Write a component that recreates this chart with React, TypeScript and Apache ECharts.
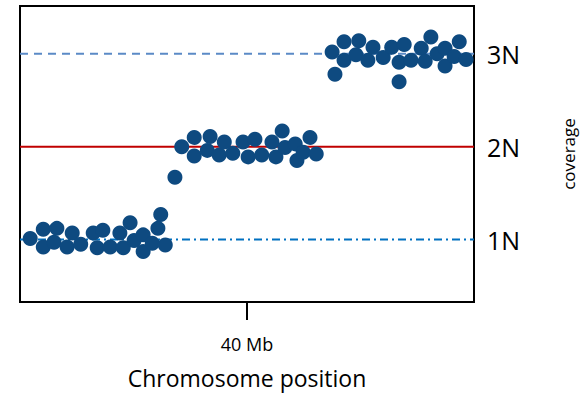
import React, { useEffect, useRef } from "react";
import * as echarts from "echarts";

// Chromosome position (Mb) and coverage (copy number) for each window
const oneNX = [1.8, 4.1, 4.1, 6.0, 6.5, 8.3, 9.2, 10.7, 12.9, 13.6, 14.6, 15.9, 17.6, 18.2, 19.4, 20.1, 21.7, 21.7, 23.3, 24.3, 24.8, 25.6];
const oneNY = [1.01, 1.11, 0.92, 0.97, 1.12, 0.92, 1.07, 0.95, 1.07, 0.91, 1.10, 0.92, 1.07, 0.91, 1.18, 0.99, 1.05, 0.87, 0.96, 1.12, 1.27, 0.94];
const twoNX = [27.3, 28.5, 30.7, 30.7, 33.5, 33.0, 35.1, 36.0, 37.5, 39.3, 40.2, 41.4, 42.6, 44.4, 45.1, 46.2, 46.7, 48.5, 48.8, 49.9, 51.1, 52.2];
const twoNY = [1.67, 2.0, 2.1, 1.9, 2.11, 1.96, 1.91, 2.05, 1.93, 2.05, 1.89, 2.08, 1.91, 2.05, 1.89, 2.17, 1.99, 2.03, 1.85, 1.94, 2.1, 1.92];
const threeNX = [55.0, 55.5, 57.1, 57.1, 59.7, 59.2, 61.3, 62.2, 64.0, 65.5, 66.8, 67.7, 66.8, 68.9, 70.7, 71.4, 72.4, 73.5, 74.9, 74.9, 76.5, 77.4, 78.6];
const threeNY = [3.02, 2.78, 3.13, 2.93, 3.14, 2.99, 2.93, 3.07, 2.96, 3.07, 2.91, 3.10, 2.70, 2.93, 3.06, 2.92, 3.18, 3.00, 3.06, 2.87, 2.97, 3.13, 2.94];

const xTicks = [40];
const xTickLabels = ["40 Mb"];
const yTicks = [1, 2, 3];
const yTickLabels = ["1N", "2N", "3N"];
const xRange = [0, 80];
const yRange = [0.327, 3.515];
const copyLevels = [1, 2, 3];

const FONT = "'Open Sans', 'Noto Sans', sans-serif";

export default function App() {
  const ref = useRef<HTMLDivElement>(null);
  useEffect(() => {
    if (!ref.current) return;
    const chart = echarts.init(ref.current, undefined, { renderer: "svg" });
    const pts = [
      ...oneNX.map((x, i) => [x, oneNY[i]]),
      ...twoNX.map((x, i) => [x, twoNY[i]]),
      ...threeNX.map((x, i) => [x, threeNY[i]]),
    ];
    const levelLine = (lvl: number, color: string, type: any) => ({
      type: "line",
      data: [
        [xRange[0], lvl],
        [xRange[1], lvl],
      ],
      symbol: "none",
      silent: true,
      z: 1,
      lineStyle: { color, width: 2, type },
    });
    chart.setOption({
      animation: false,
      grid: {
        left: 20,
        right: 107,
        top: 6,
        bottom: 94,
        show: true,
        borderColor: "#000",
        borderWidth: 2,
        backgroundColor: "transparent",
        containLabel: false,
        outerBoundsMode: "none",
      },
      xAxis: {
        type: "value",
        min: xRange[0],
        max: xRange[1],
        splitLine: { show: false },
        axisLine: { show: false },
        axisTick: {
          show: true,
          customValues: xTicks,
          length: 18,
          lineStyle: { color: "#000", width: 2 },
        },
        axisLabel: {
          customValues: xTicks,
          formatter: (v: number) => xTickLabels[xTicks.indexOf(v)] ?? "",
          fontFamily: FONT,
          fontSize: 18,
          color: "#000",
          margin: 33,
        },
        name: "Chromosome position",
        nameLocation: "middle",
        nameGap: 64,
        nameTextStyle: { fontFamily: FONT, fontSize: 23, color: "#000" },
      },
      yAxis: {
        type: "value",
        position: "right",
        min: yRange[0],
        max: yRange[1],
        splitLine: { show: false },
        axisLine: { show: false },
        axisTick: { show: false },
        axisLabel: {
          customValues: yTicks,
          formatter: (v: number) => yTickLabels[yTicks.indexOf(v)] ?? "",
          fontFamily: FONT,
          fontSize: 25,
          color: "#000",
          margin: 13,
          padding: [0, 0, 6, 0],
        },
        name: "coverage",
        nameLocation: "middle",
        nameRotate: 90,
        nameGap: 86,
        nameTextStyle: { fontFamily: FONT, fontSize: 17, color: "#000" },
      },
      series: [
        levelLine(copyLevels[0], "#0070c0", [8, 4, 2, 4]),
        levelLine(copyLevels[1], "#c00000", "solid"),
        levelLine(copyLevels[2], "#5b8ac6", [8, 6]),
        {
          type: "scatter",
          data: pts,
          symbolSize: 15,
          z: 3,
          itemStyle: { color: "#0e4a80", opacity: 1 },
        },
      ],
    });
    return () => chart.dispose();
  }, []);
  return (
    <div
      ref={ref}
      style={{ position: "fixed", left: 0, top: 0, width: 581, height: 396, background: "#fff" }}
    />
  );
}
